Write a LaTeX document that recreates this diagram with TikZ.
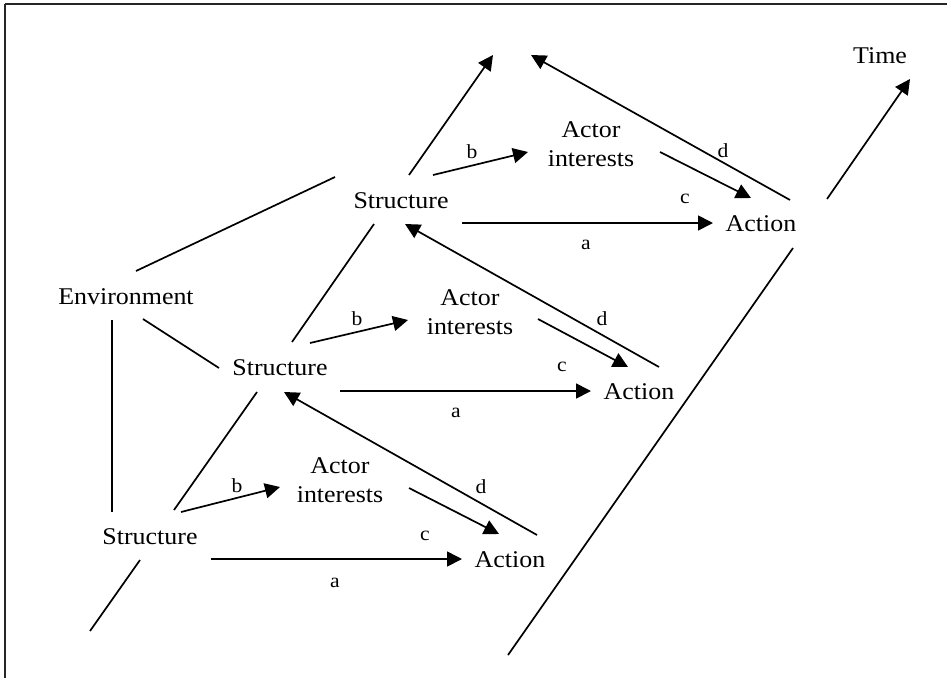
\documentclass[tikz,border=0pt]{standalone}
\usepackage{graphicx}
\usepackage{fontspec}
\setmainfont{Liberation Serif}
\usetikzlibrary{arrows.meta}
\newcommand{\widetxt}[1]{\scalebox{1.08}[1]{#1}}
\begin{document}
\begin{tikzpicture}[x=1pt,y=-1pt,
  lbl/.style={font=\fontsize{24}{29}\selectfont, inner sep=0pt, align=center},
  tag/.style={font=\fontsize{20}{24}\selectfont, inner sep=0pt},
  link/.style={line width=1.7pt},
  arr/.style={line width=1.7pt, -{Triangle[length=15pt,width=15pt]}},
  frame/.style={line width=2pt, black!85}]
\useasboundingbox (0,0) rectangle (947,678);

% frame edges
\draw[frame] (5,4) -- (947,4);
\draw[frame] (5,4) -- (5,678);

% text nodes
\node[lbl] (time) at (880,56) {\widetxt{Time}};
\node[lbl] (env)  at (126,297) {\widetxt{Environment}};
\node[lbl] (s1) at (401,201) {\widetxt{Structure}};
\node[lbl] (s2) at (280,368) {\widetxt{Structure}};
\node[lbl] (s3) at (150,537) {\widetxt{Structure}};
\node[lbl] (i1) at (591,144) {\widetxt{Actor}\\\widetxt{interests}};
\node[lbl] (i2) at (470,312) {\widetxt{Actor}\\\widetxt{interests}};
\node[lbl] (i3) at (340,480) {\widetxt{Actor}\\\widetxt{interests}};
\node[lbl] (a1) at (761,224) {\widetxt{Action}};
\node[lbl] (a2) at (639,392) {\widetxt{Action}};
\node[lbl] (a3) at (510,560) {\widetxt{Action}};

% edge letters
\node[tag] (b1) at (472,152) {\widetxt{b}};
\node[tag] (c1) at (685,199) {\widetxt{c}};
\node[tag] (l1) at (586,245) {\widetxt{a}};
\node[tag] (d1) at (723,151) {\widetxt{d}};
\node[tag] (b2) at (357,319) {\widetxt{b}};
\node[tag] (c2) at (562,367) {\widetxt{c}};
\node[tag] (l2) at (456,413) {\widetxt{a}};
\node[tag] (d2) at (602,319) {\widetxt{d}};
\node[tag] (b3) at (237,486) {\widetxt{b}};
\node[tag] (c3) at (425,536) {\widetxt{c}};
\node[tag] (l3) at (335,583) {\widetxt{a}};
\node[tag] (d3) at (481,487) {\widetxt{d}};

% connector end points
\coordinate (envA) at (136,271);  \coordinate (s1W) at (335,177);
\coordinate (envB) at (143,319);  \coordinate (s2W) at (219,368);
\coordinate (envC) at (112,320);  \coordinate (s3N) at (112,512);
\coordinate (s1up) at (409,175);  \coordinate (nextS) at (493,55);
\coordinate (s1dn) at (374,224);  \coordinate (s2up) at (292,342);
\coordinate (s2dn) at (257,392);  \coordinate (s3up) at (174,510);
\coordinate (s3dn) at (140,560);  \coordinate (prevS) at (90,631);
\coordinate (s1b) at (433,175);  \coordinate (i1b) at (528,152);
\coordinate (s2b) at (310,343);  \coordinate (i2b) at (408,320);
\coordinate (s3b) at (181,512);  \coordinate (i3b) at (280,487);
\coordinate (s1a) at (462,223);  \coordinate (a1a) at (713,223);
\coordinate (s2a) at (340,391);  \coordinate (a2a) at (591,391);
\coordinate (s3a) at (211,559);  \coordinate (a3a) at (462,559);
\coordinate (i1c) at (660,152);  \coordinate (a1c) at (751,198);
\coordinate (i2c) at (538,319);  \coordinate (a2c) at (628,367);
\coordinate (i3c) at (409,488);  \coordinate (a3c) at (499,534);
\coordinate (a1d) at (790,200);  \coordinate (nextD) at (531,55);
\coordinate (a2d) at (659,367);  \coordinate (s1d) at (405,224);
\coordinate (a3d) at (537,535);  \coordinate (s2d) at (284,392);
\coordinate (tA) at (827,199);   \coordinate (tB) at (910,79);
\coordinate (axA) at (793,248);  \coordinate (axB) at (508,655);

% environment links
\draw[link] (envA) -- (s1W);
\draw[link] (envB) -- (s2W);
\draw[link] (envC) -- (s3N);

% structure chain
\draw[arr]  (s1up) -- (nextS);
\draw[link] (s1dn) -- (s2up);
\draw[link] (s2dn) -- (s3up);
\draw[link] (s3dn) -- (prevS);

% b: structure to actor interests
\draw[arr] (s1b) -- (i1b);
\draw[arr] (s2b) -- (i2b);
\draw[arr] (s3b) -- (i3b);

% a: structure to action
\draw[arr] (s1a) -- (a1a);
\draw[arr] (s2a) -- (a2a);
\draw[arr] (s3a) -- (a3a);

% c: actor interests to action
\draw[arr] (i1c) -- (a1c);
\draw[arr] (i2c) -- (a2c);
\draw[arr] (i3c) -- (a3c);

% d: action back to next structure
\draw[arr] (a1d) -- (nextD);
\draw[arr] (a2d) -- (s1d);
\draw[arr] (a3d) -- (s2d);

% time axis
\draw[arr]  (tA) -- (tB);
\draw[link] (axA) -- (axB);
\end{tikzpicture}
\end{document}
